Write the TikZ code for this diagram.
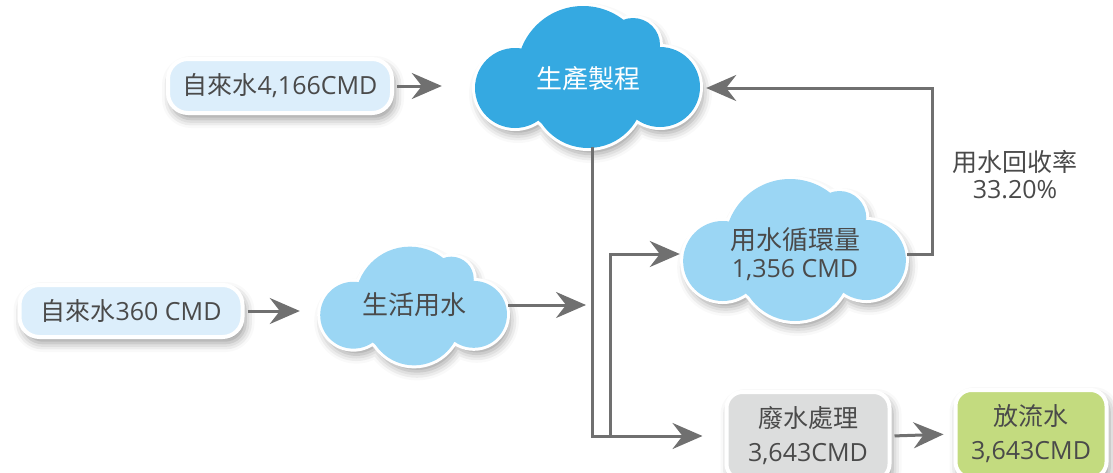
\documentclass[tikz,border=0pt]{standalone}
\usepackage{fontspec}
\setmainfont{Open Sans}
\newfontfamily\cjk{Noto Sans CJK TC}
\usetikzlibrary{arrows.meta,shadows.blur}
\definecolor{txt}{HTML}{4A4A4A}
\definecolor{arrc}{HTML}{707070}
\definecolor{dblue}{HTML}{35A9E1}
\definecolor{lblue}{HTML}{9BD6F4}
\definecolor{pblue}{HTML}{DCEEFB}
\definecolor{lgray}{HTML}{DCDDDD}
\definecolor{lgreen}{HTML}{C3DB7F}
\newcommand\cloudcircles{(-73,11) circle[radius=40] (-5,-5) circle[radius=66] (45,-32) circle[radius=27] (72,10) circle[radius=40] (0,15) circle[radius=56]}
% #1 x, #2 y, #3 xscale, #4 yscale, #5 colour
\newcommand\drawcloud[5]{%
  \begin{scope}[shift={(#1,#2)},xscale=#3,yscale=#4]
    \path[sh,draw=white,line width=6pt] \cloudcircles;
    \fill[#5] \cloudcircles;
  \end{scope}}
\begin{document}
\begin{tikzpicture}[x=1pt,y=-1pt,
 font=\fontsize{25}{32}\selectfont, text=txt,
 sh/.style={blur shadow={shadow xshift=3pt,shadow yshift=-6pt,shadow blur radius=9pt,shadow opacity=40}},
 pill/.style={draw=white,line width=4pt,rounded corners=20pt,sh,inner sep=0pt},
 cl/.style={inner sep=0pt,align=center,font=\fontsize{26}{28}\selectfont},
 arr/.style={draw=arrc,line width=3pt,-{Stealth[length=30pt,width=26pt,inset=10pt]}}
]
\useasboundingbox (0,0) rectangle (1113,472);

\drawcloud{588}{77}{1}{1}{dblue}
\drawcloud{795}{250}{0.99}{1}{lblue}
\drawcloud{414}{306}{0.83}{0.836}{lblue}

\node[pill,fill=pblue,minimum width=224pt,minimum height=54pt] (b1) at (280,86) {{\cjk 自來水}4,166CMD};
\node[cl,minimum width=226pt,minimum height=136pt,text=white] (c1) at (588,79) {\cjk 生產製程};
\node[cl,minimum width=224pt,minimum height=134pt] (c2) at (795,254) {{\cjk 用水循環量}\\{\fontsize{25}{28}\selectfont 1,356 CMD}};
\node[cl,minimum width=188pt,minimum height=117pt] (c3) at (414,305) {\cjk 生活用水};
\node[pill,fill=pblue,minimum width=223pt,minimum height=52pt] (b2) at (131,311) {{\cjk 自來水}360 CMD};
\node[pill,rounded corners=16pt,fill=lgray,minimum width=163pt,minimum height=88pt,align=center,font=\fontsize{25}{34}\selectfont] (w) at (808,436) {{\cjk 廢水處理}\\3,643CMD};
\node[pill,rounded corners=16pt,fill=lgreen,minimum width=151pt,minimum height=88pt,align=center,font=\fontsize{25}{34}\selectfont] (g) at (1031,434) {{\cjk 放流水}\\3,643CMD};
\node[align=center,font=\fontsize{25}{27}\selectfont] (lab) at (1015,175) {{\cjk 用水回收率}\\33.20\%};

\coordinate (fb) at (932,88);
\coordinate (j1) at ([xshift=4pt]c1.south);
\coordinate (j2) at (610,436);

\draw[arr,shorten <=3pt,shorten >=33pt] (b1.east) -- (b1.east -| c1.west);
\draw[arr,shorten >=5pt] (c2.east) -| (fb) -- (fb -| c1.east);
\draw[arr,shorten >=22pt] (j1) |- (w.west);
\draw[arr,shorten >=3pt] (j2) |- (c2.west);
\draw[arr,shorten >=6pt] (c3.east) -- (c3.east -| j1);
\draw[arr,shorten <=3pt,shorten >=20pt] (b2.east) -- (b2.east -| c3.west);
\draw[arr,shorten <=3pt,shorten >=10pt] (w.east) -- (g.west);
\end{tikzpicture}
\end{document}
